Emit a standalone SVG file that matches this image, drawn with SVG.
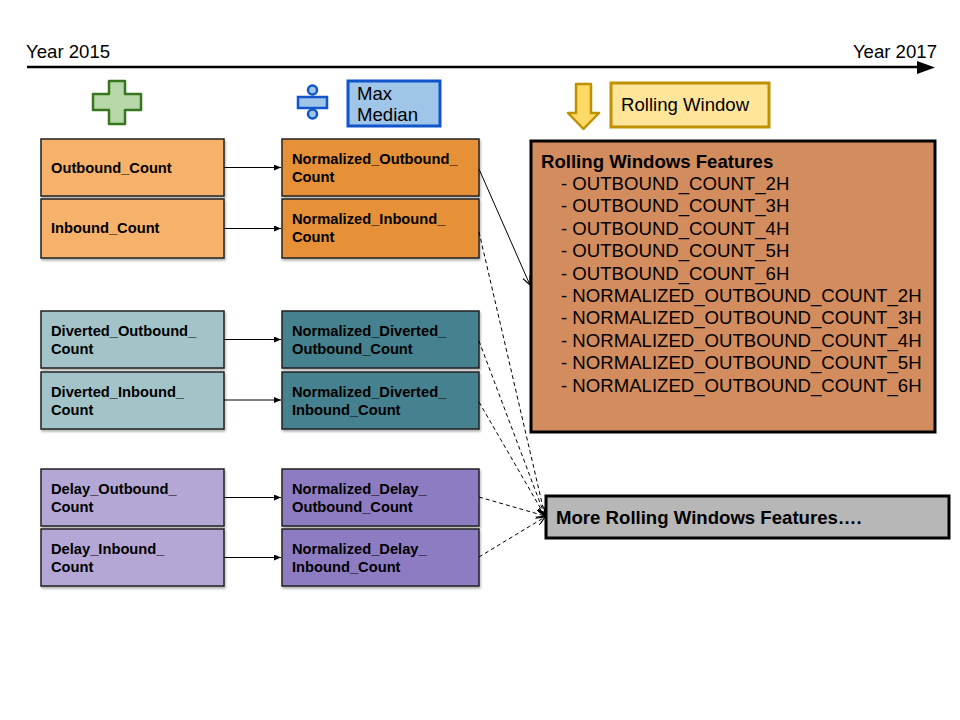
<svg xmlns="http://www.w3.org/2000/svg" width="960" height="720" viewBox="0 0 960 720">
<defs>
<style>
text{font-family:"Liberation Sans",Arial,sans-serif;fill:#000}
.lbl{font-size:18.6px}
.b{font-size:14.7px;font-weight:bold}
.bt{font-size:18.6px;font-weight:bold}
.box{stroke:#222;stroke-width:1.5}
.conn{stroke:#000;stroke-width:1;fill:none}
.dash{stroke-dasharray:4,3}
</style>
<marker id="ah" markerWidth="8" markerHeight="6" refX="7" refY="3" orient="auto" markerUnits="userSpaceOnUse">
<path d="M0,0 L7,3 L0,6 Z" fill="#000"/>
</marker>
<marker id="ah2" markerWidth="10" markerHeight="8" refX="9" refY="4" orient="auto" markerUnits="userSpaceOnUse">
<path d="M0,0 L9,4 L0,8" fill="none" stroke="#000" stroke-width="1.2"/>
</marker>
<filter id="sh" x="-5%" y="-10%" width="115%" height="130%">
<feDropShadow dx="1" dy="2" stdDeviation="1.2" flood-color="#000" flood-opacity="0.3"/>
</filter>
</defs>
<rect width="960" height="720" fill="#fff"/>

<g id="timeline">
<line x1="27" y1="67" x2="920" y2="67" stroke="#000" stroke-width="2.5"/>
<path d="M917,61 L935,67.5 L917,74 Z" fill="#000"/>
<text x="26" y="58" class="lbl">Year 2015</text>
<text x="937" y="58" class="lbl" text-anchor="end">Year 2017</text>
</g>

<g id="plus-icon">
<path d="M109,81 H125 V94 H141 V110 H125 V124 H109 V110 H93 V94 H109 Z" fill="#b6d7a8" stroke="#38761d" stroke-width="2.5" stroke-linejoin="round"/>
</g>

<g id="divide-icon" fill="#9fc5e8" stroke="#1155cc" stroke-width="2.5">
<circle cx="312.5" cy="90" r="4.5"/>
<rect x="298" y="97" width="29" height="11"/>
<circle cx="312.5" cy="114" r="4.5"/>
</g>

<g id="max-median">
<rect x="348" y="81" width="92" height="45" fill="#9fc5e8" stroke="#1155cc" stroke-width="3"/>
<text x="357" y="100" class="lbl">Max</text>
<text x="357" y="121" class="lbl">Median</text>
</g>

<g id="rolling-arrow-icon">
<path d="M576,84 H591 V113 H599 L583.5,129 L568,113 H576 Z" fill="#ffd966" stroke="#bf9000" stroke-width="2.5" stroke-linejoin="round"/>
</g>

<g id="rolling-window">
<rect x="611" y="83" width="158" height="44" fill="#ffe599" stroke="#bf9000" stroke-width="3"/>
<text x="621" y="111" class="lbl">Rolling Window</text>
</g>

<g id="outbound-count">
<rect x="41" y="139" width="183" height="57" fill="#f6b26b" class="box" filter="url(#sh)"/>
<text x="51" y="173" class="b">Outbound_Count</text>
</g>
<g id="inbound-count">
<rect x="41" y="199" width="183" height="59" fill="#f6b26b" class="box" filter="url(#sh)"/>
<text x="51" y="233" class="b">Inbound_Count</text>
</g>
<g id="norm-outbound-count">
<rect x="282" y="139" width="197" height="57" fill="#e69138" class="box" filter="url(#sh)"/>
<text x="292" y="164" class="b">Normalized_Outbound_</text>
<text x="292" y="182" class="b">Count</text>
</g>
<g id="norm-inbound-count">
<rect x="282" y="199" width="197" height="59" fill="#e69138" class="box" filter="url(#sh)"/>
<text x="292" y="224" class="b">Normalized_Inbound_</text>
<text x="292" y="242" class="b">Count</text>
</g>

<g id="diverted-outbound-count">
<rect x="41" y="311" width="183" height="57" fill="#a2c4c9" class="box" filter="url(#sh)"/>
<text x="51" y="336" class="b">Diverted_Outbound_</text>
<text x="51" y="354" class="b">Count</text>
</g>
<g id="diverted-inbound-count">
<rect x="41" y="372" width="183" height="57" fill="#a2c4c9" class="box" filter="url(#sh)"/>
<text x="51" y="397" class="b">Diverted_Inbound_</text>
<text x="51" y="415" class="b">Count</text>
</g>
<g id="norm-diverted-outbound-count">
<rect x="282" y="311" width="197" height="57" fill="#45818e" class="box" filter="url(#sh)"/>
<text x="292" y="336" class="b">Normalized_Diverted_</text>
<text x="292" y="354" class="b">Outbound_Count</text>
</g>
<g id="norm-diverted-inbound-count">
<rect x="282" y="372" width="197" height="57" fill="#45818e" class="box" filter="url(#sh)"/>
<text x="292" y="397" class="b">Normalized_Diverted_</text>
<text x="292" y="415" class="b">Inbound_Count</text>
</g>

<g id="delay-outbound-count">
<rect x="41" y="469" width="183" height="57" fill="#b4a7d6" class="box" filter="url(#sh)"/>
<text x="51" y="494" class="b">Delay_Outbound_</text>
<text x="51" y="512" class="b">Count</text>
</g>
<g id="delay-inbound-count">
<rect x="41" y="529" width="183" height="57" fill="#b4a7d6" class="box" filter="url(#sh)"/>
<text x="51" y="554" class="b">Delay_Inbound_</text>
<text x="51" y="572" class="b">Count</text>
</g>
<g id="norm-delay-outbound-count">
<rect x="282" y="469" width="197" height="57" fill="#8e7cc3" class="box" filter="url(#sh)"/>
<text x="292" y="494" class="b">Normalized_Delay_</text>
<text x="292" y="512" class="b">Outbound_Count</text>
</g>
<g id="norm-delay-inbound-count">
<rect x="282" y="529" width="197" height="57" fill="#8e7cc3" class="box" filter="url(#sh)"/>
<text x="292" y="554" class="b">Normalized_Delay_</text>
<text x="292" y="572" class="b">Inbound_Count</text>
</g>

<g id="rolling-windows-features">
<rect x="531" y="141" width="404" height="291" fill="#d38c5d" stroke="#000" stroke-width="3"/>
<text x="541" y="168" class="bt">Rolling Windows Features</text>
<text x="561" y="190" class="lbl">- OUTBOUND_COUNT_2H</text>
<text x="561" y="212" class="lbl">- OUTBOUND_COUNT_3H</text>
<text x="561" y="235" class="lbl">- OUTBOUND_COUNT_4H</text>
<text x="561" y="257" class="lbl">- OUTBOUND_COUNT_5H</text>
<text x="561" y="280" class="lbl">- OUTBOUND_COUNT_6H</text>
<text x="561" y="302" class="lbl">- NORMALIZED_OUTBOUND_COUNT_2H</text>
<text x="561" y="324" class="lbl">- NORMALIZED_OUTBOUND_COUNT_3H</text>
<text x="561" y="347" class="lbl">- NORMALIZED_OUTBOUND_COUNT_4H</text>
<text x="561" y="369" class="lbl">- NORMALIZED_OUTBOUND_COUNT_5H</text>
<text x="561" y="392" class="lbl">- NORMALIZED_OUTBOUND_COUNT_6H</text>
</g>

<g id="more-features">
<rect x="546" y="496" width="403" height="42" fill="#b7b7b7" stroke="#000" stroke-width="3"/>
<text x="556" y="524" class="bt">More Rolling Windows Features….</text>
</g>

<g id="connectors">
<line x1="224" y1="167.5" x2="281" y2="167.5" class="conn" marker-end="url(#ah)"/>
<line x1="224" y1="228.5" x2="281" y2="228.5" class="conn" marker-end="url(#ah)"/>
<line x1="224" y1="339.5" x2="281" y2="339.5" class="conn" marker-end="url(#ah)"/>
<line x1="224" y1="400" x2="281" y2="400" class="conn" marker-end="url(#ah)"/>
<line x1="224" y1="497.5" x2="281" y2="497.5" class="conn" marker-end="url(#ah)"/>
<line x1="224" y1="557.5" x2="281" y2="557.5" class="conn" marker-end="url(#ah)"/>
<line x1="479" y1="169" x2="530" y2="285" class="conn" marker-end="url(#ah2)"/>
<line x1="479" y1="232" x2="545" y2="516" class="conn dash" marker-end="url(#ah2)"/>
<line x1="479" y1="341" x2="545" y2="516" class="conn dash" marker-end="url(#ah2)"/>
<line x1="479" y1="402" x2="545" y2="516" class="conn dash" marker-end="url(#ah2)"/>
<line x1="479" y1="497" x2="545" y2="516" class="conn dash" marker-end="url(#ah2)"/>
<line x1="479" y1="557" x2="545" y2="517" class="conn dash" marker-end="url(#ah2)"/>
</g>
</svg>
